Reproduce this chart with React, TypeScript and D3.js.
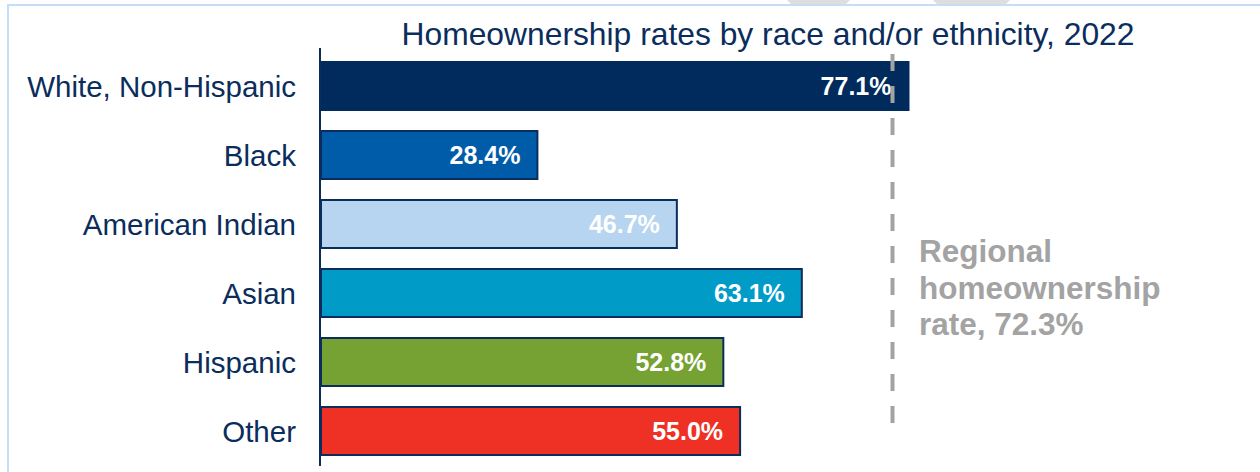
import React from "react";
import * as d3 from "d3";

const categories = ["White, Non-Hispanic", "Black", "American Indian", "Asian", "Hispanic", "Other"];
const rates = [77.1, 28.4, 46.7, 63.1, 52.8, 55.0];
const barColors = ["#002b5c", "#005ca9", "#b7d5f0", "#009bc7", "#76a133", "#ee3124"];
const titleText = "Homeownership rates by race and/or ethnicity, 2022";
const regionalRate = 72.3;
// position of the dashed marker as drawn in the reference (estimated on the bar scale)
const regionalMarkerAt = 75.0;
const regionalLabelLines = ["Regional", "homeownership", `rate, ${regionalRate.toFixed(1)}%`];

const W = 1260;
const H = 472;
const FONT = "'Liberation Sans', Arial, sans-serif";
const NAVY = "#0b2d5c";
const GREY = "#a3a3a3";

export default function App() {
  const x = d3.scaleLinear().domain([0, 100]).range([321, 321 + 762]);
  const pi = 21 / 69;
  const y = d3
    .scaleBand<string>()
    .domain(categories)
    .range([51.5, 465.5])
    .paddingInner(pi)
    .paddingOuter(pi / 2);
  const bw = y.bandwidth();
  const mx = x(regionalMarkerAt);

  return (
    <svg
      width={W}
      height={H}
      style={{ position: "absolute", left: 0, top: 0, background: "#fff" }}
    >
      {/* faint background shapes at the top */}
      <polygon points="787,0 850,0 846,4 791,4" fill="#dedede" />
      <polygon points="933,0 1010,0 1006,4 937,4" fill="#dedede" />
      {/* frame */}
      <line x1={7} y1={5} x2={1260} y2={5} stroke="#c3def6" strokeWidth={2} />
      <line x1={8} y1={4} x2={8} y2={472} stroke="#c3def6" strokeWidth={2} />

      <text
        x={768}
        y={45}
        textAnchor="middle"
        fontFamily={FONT}
        fontSize={31.8}
        fill={NAVY}
      >
        {titleText}
      </text>

      {categories.map((c, i) => {
        const y0 = y(c)!;
        const x1 = x(rates[i]);
        return (
          <g key={c}>
            <rect
              x={x(0)}
              y={y0}
              width={x1 - x(0)}
              height={bw}
              fill={barColors[i]}
              stroke={i === 0 ? barColors[i] : NAVY}
              strokeWidth={2}
            />
            <text
              x={x1 - 17}
              y={y0 + bw / 2}
              dy="0.36em"
              textAnchor="end"
              fontFamily={FONT}
              fontWeight="bold"
              fontSize={25}
              fill="#ffffff"
            >
              {rates[i].toFixed(1)}%
            </text>
            <text
              x={296}
              y={y0 + bw / 2}
              dy="0.36em"
              textAnchor="end"
              fontFamily={FONT}
              fontSize={29.5}
              fill={NAVY}
            >
              {c}
            </text>
          </g>
        );
      })}

      <line x1={320} y1={48} x2={320} y2={466} stroke={NAVY} strokeWidth={2} />

      <line
        x1={mx}
        y1={54}
        x2={mx}
        y2={433}
        stroke={GREY}
        strokeWidth={4}
        strokeDasharray="17 15"
      />

      {regionalLabelLines.map((t, i) => (
        <text
          key={i}
          x={919}
          y={262 + i * 36.5}
          fontFamily={FONT}
          fontWeight="bold"
          fontSize={31.5}
          fill={GREY}
        >
          {t}
        </text>
      ))}
    </svg>
  );
}
